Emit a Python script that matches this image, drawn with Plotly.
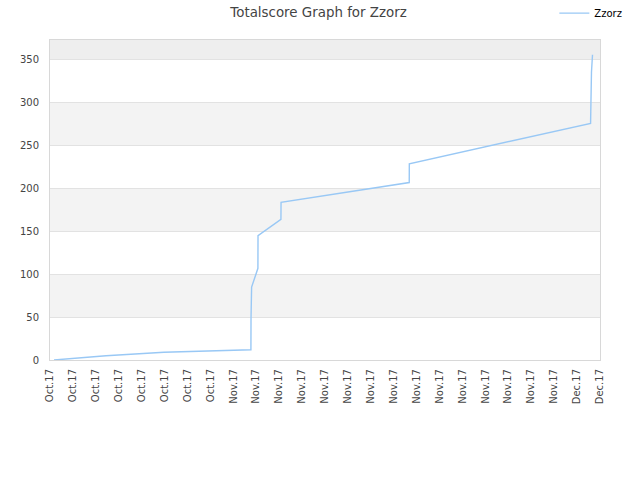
import plotly.graph_objects as go

title_text = "Totalscore Graph for Zzorz"
series_name = "Zzorz"

dates = ["2017-10-17 08:24", "2017-10-21 21:21", "2017-10-26 22:48", "2017-10-29 07:12",
         "2017-11-01 19:12", "2017-11-03 12:58", "2017-11-03 13:10", "2017-11-03 14:24",
         "2017-11-04 03:36", "2017-11-04 03:50", "2017-11-06 03:50", "2017-11-06 04:05",
         "2017-11-17 08:38", "2017-11-17 08:50", "2017-12-03 04:34", "2017-12-03 04:50",
         "2017-12-03 06:29", "2017-12-03 08:38"]
scores = [0, 5, 9, 10, 11, 12, 49, 85, 107, 145, 164, 184, 207, 229, 276, 296, 336, 356]

y_ticks = [0, 50, 100, 150, 200, 250, 300, 350]
y_max = 373.3
x_start = "2017-10-17"
x_end = "2017-12-04 00:20"

font_family = "DejaVu Sans, Verdana, sans-serif"

fig = go.Figure()
fig.add_trace(go.Scatter(
    x=dates, y=scores, mode="lines", name=series_name,
    line=dict(color="#99c8f5", width=1.4),
))

# alternating background bands
shapes = []
for lo in range(50, 351, 100):
    hi = min(lo + 50, y_max)
    shapes.append(dict(type="rect", xref="paper", yref="y", x0=0, x1=1, y0=lo, y1=hi,
                       fillcolor="#eeeeee" if lo == 350 else "#f3f3f3",
                       line=dict(width=0), layer="below"))

fig.update_layout(
    width=640, height=480,
    margin=dict(l=50, r=40, t=40, b=120, autoexpand=False),
    paper_bgcolor="white", plot_bgcolor="white",
    font=dict(family=font_family, size=10, color="#444444"),
    title=dict(text=title_text, x=0.4977, xref="container", xanchor="center",
               yref="container", y=0.975, yanchor="middle",
               font=dict(size=13.4, color="#444444")),
    showlegend=True,
    legend=dict(x=0.917, y=1.084, xanchor="left", yanchor="middle", bgcolor="rgba(0,0,0,0)",
                font=dict(size=10, color="#000000")),
    shapes=shapes,
    xaxis=dict(type="date", range=[x_start, x_end], tick0=x_start, dtick=2 * 86400000,
               tickformat="%b.%y", tickangle=-90, showgrid=False, zeroline=False,
               showline=True, linecolor="#d8d8d8", mirror=True, ticks="", automargin=False,
               ticklabelstandoff=4, tickfont=dict(size=10, color="#444444")),
    yaxis=dict(range=[0, y_max], tickvals=y_ticks, showgrid=True, gridcolor="#e2e2e2",
               zeroline=False, showline=True, linecolor="#d8d8d8", mirror=True, ticks="",
               automargin=False,
               ticklabelstandoff=8, tickfont=dict(size=10, color="#444444")),
)

fig.write_html("out.html", config={"displayModeBar": False},
               post_script="document.body.style.margin='0';")
